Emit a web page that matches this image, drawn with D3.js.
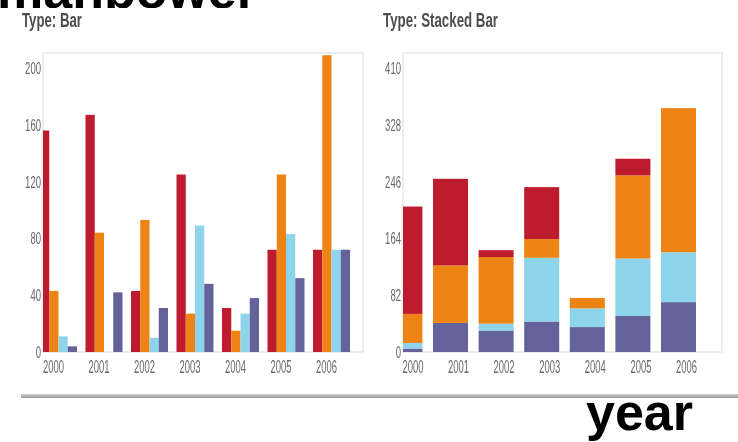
<!DOCTYPE html>
<html><head><meta charset="utf-8">
<script src="https://cdn.jsdelivr.net/npm/d3@7/dist/d3.min.js"></script>
<style>html,body{margin:0;padding:0;background:#fff;overflow:hidden}</style>
</head><body>
<div id="chart"></div>
<script>
// ---- data ----
const years = ["2000","2001","2002","2003","2004","2005","2006"];
const seriesKeys = ["s1","s2","s3","s4"]; // red, orange, light blue, purple
const seriesColors = ["#bd1a2d","#ee8412","#8ed4ea","#64649a"];

// Type: Bar values
const barS1 = [156,167,43,125,31,72,72];
const barS2 = [43,84,93,27,15,125,209];
const barS3 = [11,0,10,89,27,83,72];
const barS4 = [4,42,31,48,38,52,72];

// Type: Stacked Bar values (segments)
const stackS1 = [155,125,10,75,0,24,0];
const stackS2 = [42,83,96,27,15,120,208];
const stackS3 = [8,0,10,92,27,83,72];
const stackS4 = [5,42,31,44,36,52,72];

const barTicks = [0,40,80,120,160,200];
const stackTicks = [0,82,164,246,328,410];

const W = 738, H = 442;
const svg = d3.select("#chart").append("svg").attr("width",W).attr("height",H);
svg.append("rect").attr("width",W).attr("height",H).attr("fill","#fff");

const defs = svg.append("defs");
defs.append("filter").attr("id","soft").append("feGaussianBlur").attr("stdDeviation",0.45);
defs.append("clipPath").attr("id","clipTop").append("rect").attr("x",0).attr("y",0).attr("width",W).attr("height",8);
defs.append("clipPath").attr("id","clipL").append("rect").attr("x",43).attr("y",53).attr("width",320).attr("height",299);
defs.append("clipPath").attr("id","clipR").append("rect").attr("x",403).attr("y",53).attr("width",319).attr("height",299);

// header word (cut off)
svg.append("text").attr("x",-3).attr("y",8).attr("clip-path","url(#clipTop)")
  .attr("font-family","Liberation Sans, Arial, sans-serif").attr("font-weight","bold")
  .attr("font-size",52).attr("fill","#000")
  .attr("textLength",260).attr("lengthAdjust","spacingAndGlyphs").text("manpower");

const charts = svg.append("g").attr("filter","url(#soft)");

function frame(g, x, y, w, h){
  g.append("rect").attr("x",x).attr("y",y).attr("width",w).attr("height",h)
    .attr("fill","#fff").attr("stroke","#e2e2e2").attr("stroke-width",1.2);
}
function title(g, x, txt, len){
  g.append("text").attr("x",x).attr("y",27).attr("font-family","Liberation Sans Narrow, Liberation Sans, Arial, sans-serif")
    .attr("font-weight","bold").attr("font-size",21).attr("fill","#4e4e4e")
    .attr("textLength",len).attr("lengthAdjust","spacingAndGlyphs").text(txt);
}
const labelFont = "Liberation Sans Narrow, Liberation Sans, Arial, sans-serif";

// ---------- left: grouped bars ----------
const gL = charts.append("g");
title(gL, 22, "Type: Bar", 60);
frame(gL, 43, 53, 320, 299);
const xL = d3.scaleBand().domain(years).range([40, 350]).paddingInner(0.187).paddingOuter(0).align(0);
const xLi = d3.scaleBand().domain(seriesKeys).range([0, xL.bandwidth()]).padding(0);
const yL = d3.scaleLinear().domain([0,200]).range([352,68]);
const barVals = [barS1, barS2, barS3, barS4];
const barRows = years.map((yr,i)=>({year:yr, vals: seriesKeys.map((k,j)=>({key:k, v:barVals[j][i], c:seriesColors[j]}))}));
const bl = gL.append("g").attr("clip-path","url(#clipL)");
bl.selectAll("g").data(barRows).join("g").attr("transform",d=>`translate(${xL(d.year)},0)`)
  .selectAll("rect").data(d=>d.vals).join("rect")
  .attr("x",d=>xLi(d.key)).attr("width",xLi.bandwidth())
  .attr("y",d=>yL(d.v)).attr("height",d=>yL(0)-yL(d.v)).attr("fill",d=>d.c);
gL.selectAll(".yt").data(barTicks).join("text").attr("class","yt")
  .attr("x",41).attr("y",d=>yL(d)+6).attr("text-anchor","end")
  .attr("font-family",labelFont).attr("font-size",17).attr("fill","#6a6a6a")
  .attr("textLength",d=>String(d).length*5.3).attr("lengthAdjust","spacingAndGlyphs").text(d=>d);
gL.selectAll(".xt").data(years).join("text").attr("class","xt")
  .attr("x",d=>xL(d)+3).attr("y",373)
  .attr("font-family",labelFont).attr("font-size",18).attr("fill","#6a6a6a")
  .attr("textLength",21).attr("lengthAdjust","spacingAndGlyphs").text(d=>d);

// ---------- right: stacked bars ----------
const gR = charts.append("g");
title(gR, 383, "Type: Stacked Bar", 115);
frame(gR, 403, 53, 319, 299);
const xR = d3.scaleBand().domain(years).range([387.4, 696]).paddingInner(0.232).paddingOuter(0).align(0);
const yR = d3.scaleLinear().domain([0,410]).range([352,68]);
const stackRows = years.map((yr,i)=>({year:yr, s1:stackS1[i], s2:stackS2[i], s3:stackS3[i], s4:stackS4[i]}));
const stackOrder = ["s4","s3","s2","s1"];
const stacked = d3.stack().keys(stackOrder)(stackRows);
const colorOf = k => seriesColors[seriesKeys.indexOf(k)];
const br = gR.append("g").attr("clip-path","url(#clipR)");
br.selectAll("g").data(stacked).join("g").attr("fill",d=>colorOf(d.key))
  .selectAll("rect").data(d=>d).join("rect")
  .attr("x",d=>xR(d.data.year)).attr("width",xR.bandwidth())
  .attr("y",d=>yR(d[1])).attr("height",d=>yR(d[0])-yR(d[1]));
gR.selectAll(".yt").data(stackTicks).join("text").attr("class","yt")
  .attr("x",401).attr("y",d=>yR(d)+6).attr("text-anchor","end")
  .attr("font-family",labelFont).attr("font-size",17).attr("fill","#6a6a6a")
  .attr("textLength",d=>String(d).length*5.3).attr("lengthAdjust","spacingAndGlyphs").text(d=>d);
gR.selectAll(".xt").data(years).join("text").attr("class","xt")
  .attr("x",d=>xR(d)+15).attr("y",373)
  .attr("font-family",labelFont).attr("font-size",18).attr("fill","#6a6a6a")
  .attr("textLength",21).attr("lengthAdjust","spacingAndGlyphs").text(d=>d);

// separator line
const lg = defs.append("linearGradient").attr("id","sep").attr("x1",0).attr("y1",0).attr("x2",0).attr("y2",1);
lg.append("stop").attr("offset","0%").attr("stop-color","#d0d0d0");
lg.append("stop").attr("offset","100%").attr("stop-color","#9a9a9a");
svg.append("rect").attr("x",21).attr("y",394).attr("width",W-21).attr("height",4).attr("fill","url(#sep)");

// footer word
svg.append("text").attr("x",586).attr("y",430)
  .attr("font-family","Liberation Sans, Arial, sans-serif").attr("font-weight","bold")
  .attr("font-size",52).attr("fill","#000").text("year");
</script>
</body></html>
